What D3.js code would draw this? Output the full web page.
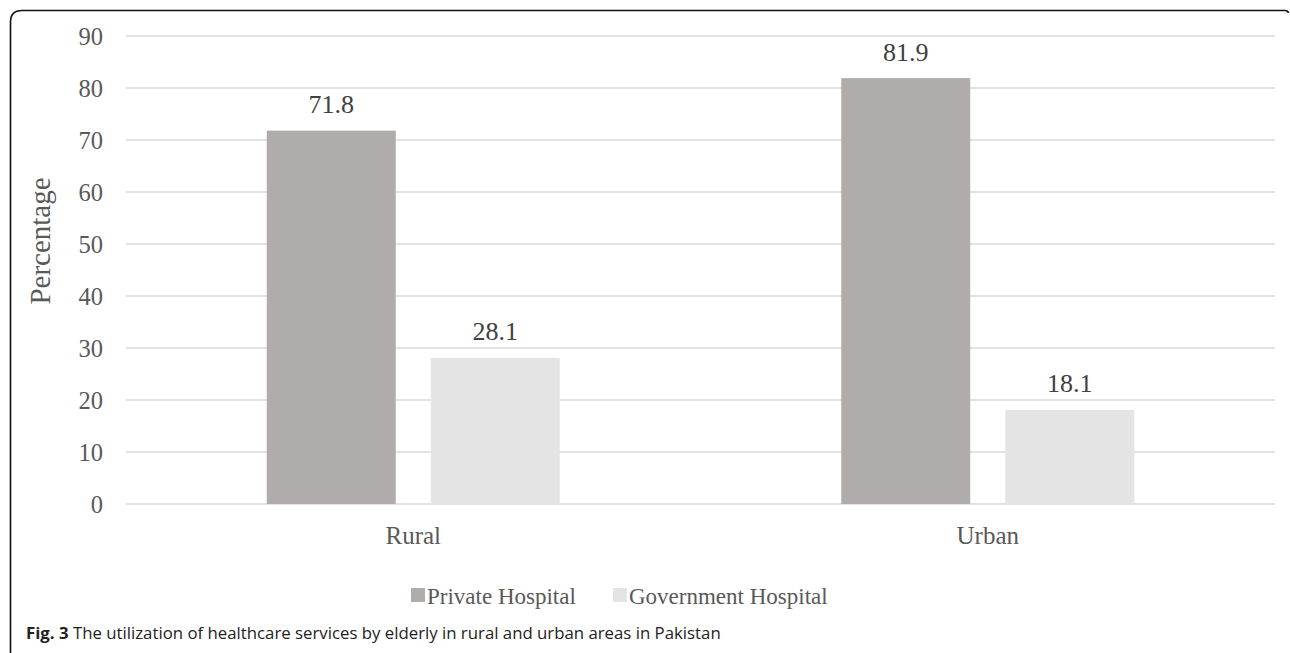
<!DOCTYPE html>
<html><head><meta charset="utf-8">
<script src="https://cdn.jsdelivr.net/npm/d3@7"></script>
<style>html,body{margin:0;padding:0;background:#fff;}svg{display:block;}</style>
</head><body>
<svg id="c" width="1290" height="653"></svg>
<script>
const categories = ["Rural", "Urban"];
const seriesNames = ["Private Hospital", "Government Hospital"];
const privateValues = [71.8, 81.9];
const governmentValues = [28.1, 18.1];
const yTicks = [0, 10, 20, 30, 40, 50, 60, 70, 80, 90];
const colors = ["#AFACAB", "#E4E4E4"];
const seriesValues = [privateValues, governmentValues];

const svg = d3.select("#c");
const serif = "'Liberation Serif','Times New Roman',serif";
const textCol = "#595959";

// frame
svg.append("path")
  .attr("d", "M10.5,660 L10.5,22 Q10.5,10.5 22,10.5 L1285,10.5 Q1288,10.5 1288.5,13")
  .attr("fill", "none").attr("stroke", "#111").attr("stroke-width", 1.6);

const x0 = d3.scaleBand().domain(categories).range([126, 1275]);
const y = d3.scaleLinear().domain([0, 90]).range([504, 36]);

// gridlines
svg.append("g").selectAll("line").data(yTicks).join("line")
  .attr("x1", 126).attr("x2", 1275)
  .attr("y1", d => y(d)).attr("y2", d => y(d))
  .attr("stroke", "#D9D9D9").attr("stroke-width", 1.5);

// y tick labels
svg.append("g").selectAll("text").data(yTicks).join("text")
  .attr("x", 103).attr("y", d => y(d)).attr("dy", "0.35em")
  .attr("text-anchor", "end").attr("font-family", serif).attr("font-size", 24.5)
  .attr("fill", textCol).text(d => d);

// y axis title
svg.append("text")
  .attr("transform", "translate(50,241) rotate(-90)")
  .attr("text-anchor", "middle").attr("font-family", serif).attr("font-size", 29)
  .attr("fill", textCol).text("Percentage");

const barW = 129, gap = 35;
const groupW = 2 * barW + gap;
const x1 = d3.scaleOrdinal().domain(seriesNames).range([0, barW + gap]);

categories.forEach((cat, ci) => {
  const g = svg.append("g").attr("transform", `translate(${x0(cat) + x0.bandwidth() / 2 - groupW / 2},0)`);
  seriesNames.forEach((s, si) => {
    const v = seriesValues[si][ci];
    g.append("rect").attr("x", x1(s)).attr("width", barW)
      .attr("y", y(v)).attr("height", y(0) - y(v)).attr("fill", colors[si]);
    g.append("text").attr("x", x1(s) + barW / 2).attr("y", y(v) - 17.5)
      .attr("text-anchor", "middle").attr("font-family", serif).attr("font-size", 26)
      .attr("fill", "#404040").text(v.toFixed(1));
  });
});

// category labels
svg.append("g").selectAll("text").data(categories).join("text")
  .attr("x", d => x0(d) + x0.bandwidth() / 2).attr("y", 544)
  .attr("text-anchor", "middle").attr("font-family", serif).attr("font-size", 25)
  .attr("fill", textCol).text(d => d);

// legend
const legendX = [411, 613];
seriesNames.forEach((s, i) => {
  svg.append("rect").attr("x", legendX[i]).attr("y", 588).attr("width", 14).attr("height", 14).attr("fill", colors[i]);
  svg.append("text").attr("x", legendX[i] + 16).attr("y", 604)
    .attr("font-family", serif).attr("font-size", 23).attr("fill", textCol).text(s);
});

// caption
const cap = svg.append("text").attr("x", 26).attr("y", 639)
  .attr("font-family", "'Open Sans','Noto Sans',sans-serif").attr("font-size", 16.8).attr("fill", "#222");
cap.append("tspan").attr("font-weight", "bold").text("Fig. 3");
cap.append("tspan").text(" The utilization of healthcare services by elderly in rural and urban areas in Pakistan");
</script>
</body></html>
